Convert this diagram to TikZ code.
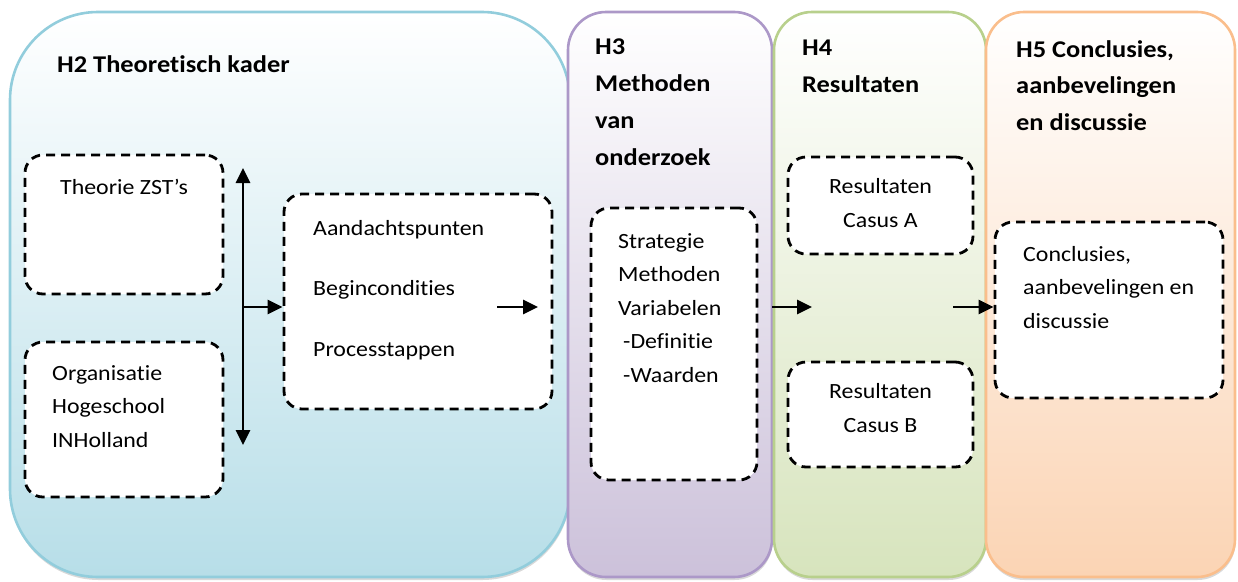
\documentclass[tikz,border=0pt]{standalone}
\usepackage{fontspec}
\setmainfont[FakeStretch=1.1, Ligatures=CommonOff]{Carlito}
\usetikzlibrary{arrows.meta,shadows}
\definecolor{hTwoBorder}{RGB}{146,205,220}
\definecolor{hTwoFill}{RGB}{183,222,232}
\definecolor{hThreeBorder}{RGB}{172,152,200}
\definecolor{hThreeFill}{RGB}{204,193,218}
\definecolor{hFourBorder}{RGB}{184,208,140}
\definecolor{hFourFill}{RGB}{215,228,189}
\definecolor{hFiveBorder}{RGB}{250,190,140}
\definecolor{hFiveFill}{RGB}{251,212,180}
\begin{document}
\begin{tikzpicture}[x=1pt,y=-1pt,
  panel/.style={draw=#1Border, line width=2.6pt, top color=white, bottom color=#1Fill,
    inner sep=0pt, drop shadow={shadow xshift=0.5pt, shadow yshift=-3pt, opacity=0.3}},
  dbox/.style={draw=black, fill=white, line width=2.8pt, dash pattern=on 9pt off 6pt,
    rounded corners=18pt, inner sep=0pt},
  head/.style={font=\fontsize{24}{37}\selectfont\bfseries, align=left, anchor=base west, inner sep=0pt},
  body/.style={font=\fontsize{21.7}{33.5}\selectfont, align=left, anchor=base west, inner sep=0pt},
  tip/.style={Triangle[length=15pt,width=14pt]},
  conn/.style={line width=2.8pt, -{Triangle[length=15pt,width=14pt]}},
]
\useasboundingbox (0,0) rectangle (1238,581);

% panels
\node[panel=hTwo, rounded corners=88pt, minimum width=560pt, minimum height=565pt] (p2) at (290,294.5) {};
\node[panel=hThree, rounded corners=38pt, minimum width=204pt, minimum height=565pt] (p3) at (670,294.5) {};
\node[panel=hFour, rounded corners=38pt, minimum width=212pt, minimum height=565pt] (p4) at (880,294.5) {};
\node[panel=hFive, rounded corners=38pt, minimum width=249pt, minimum height=565pt] (p5) at (1110.5,294.5) {};

% headings (base anchor = baseline of the last line)
\node[head] (h2t) at (57,72) {H2 Theoretisch kader};
\node[head] (h3t) at (595,165) {H3\\Methoden\\van\\onderzoek};
\node[head] (h4t) at (802,92) {H4\\Resultaten};
\node[head, font=\fontsize{24}{36.5}\selectfont\bfseries] (h5t) at (1016,130) {H5 Conclusies,\\aanbevelingen\\en discussie};

% dashed boxes
\node[dbox, minimum width=198pt, minimum height=139pt] (theo) at (124,224.5) {};
\node[dbox, minimum width=198pt, minimum height=155pt] (org) at (124,419.5) {};
\node[dbox, minimum width=268pt, minimum height=215pt] (aand) at (418,301.5) {};
\node[dbox, minimum width=166pt, minimum height=272pt] (strat) at (674,344) {};
\node[dbox, minimum width=185pt, minimum height=97pt] (resA) at (880.5,205.5) {};
\node[dbox, minimum width=185pt, minimum height=105pt] (resB) at (880.5,414.5) {};
\node[dbox, minimum width=228pt, minimum height=176pt] (concl) at (1109,310) {};

% box texts
\node[body, anchor=base] (theoT) at (124,194) {Theorie ZST’s};
\node[body] (orgT) at (52,447) {Organisatie\\Hogeschool\\INHolland};
\node[body, font=\fontsize{21.7}{60.5}\selectfont] (aandT) at (313,356) {Aandachtspunten\\Begincondities\\Processtappen};
\node[body] (stratT) at (618,382) {Strategie\\Methoden\\Variabelen\\\hspace*{5pt}-Definitie\\\hspace*{5pt}-Waarden};
\node[body, align=center, anchor=base] (resAT) at (880.5,227) {Resultaten\\Casus A};
\node[body, align=center, anchor=base] (resBT) at (880.5,432) {Resultaten\\Casus B};
\node[body] (conclT) at (1023,328) {Conclusies,\\aanbevelingen en\\discussie};

% connectors
\coordinate (vtop) at (243,168);
\coordinate (vbot) at (243,445);
\coordinate (vmid) at (243,307);
\draw[line width=2.8pt, {Triangle[length=15pt,width=14pt]}-{Triangle[length=15pt,width=14pt]}] (vtop) -- (vbot);
\draw[conn] (vmid) -- (vmid -| aand.west);
\coordinate (a1s) at (497,307);
\coordinate (a1e) at (538,307);
\draw[conn] (a1s) -- (a1e);
\coordinate (a2s) at (772,307);
\coordinate (a2e) at (812,307);
\draw[conn] (a2s) -- (a2e);
\coordinate (a3s) at (953,307);
\draw[conn] (a3s) -- (a3s -| concl.west);
\end{tikzpicture}
\end{document}
